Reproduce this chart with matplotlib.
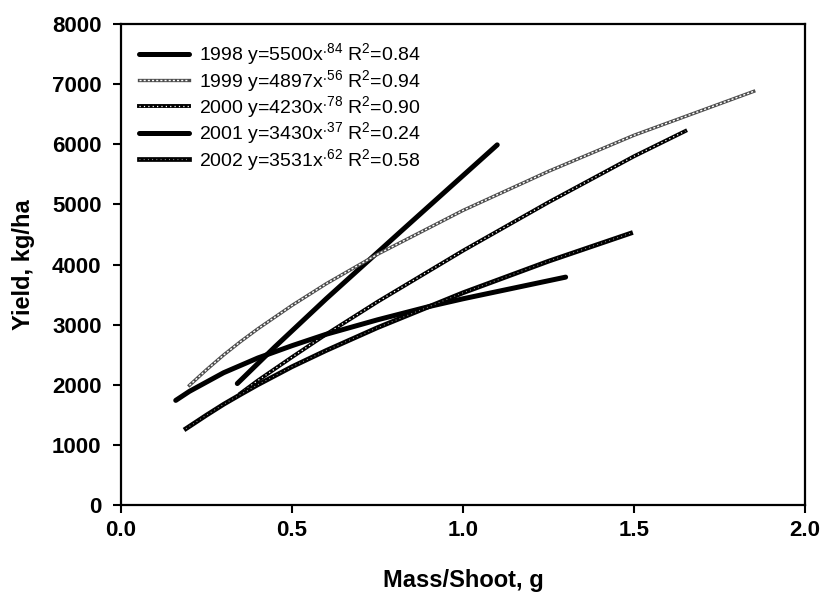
'''
Yield vs mass per shoot, fitted power curves for 1998-2002
'''

import matplotlib
matplotlib.use("Agg")
import matplotlib.pyplot as plt

plt.rcParams['font.family'] = ['Liberation Sans', 'DejaVu Sans']
plt.rcParams['mathtext.fontset'] = 'custom'
plt.rcParams['mathtext.rm'] = 'Liberation Sans'
plt.rcParams['mathtext.default'] = 'regular'

# values (x = mass/shoot in g, y = yield in kg/ha)
x_1998 = [0.34, 0.45, 0.60, 0.82, 1.10]
y_1998 = [2020, 2630, 3430, 4560, 5990]

x_1999 = [0.20, 0.25, 0.30, 0.35, 0.40, 0.50, 0.60, 0.75, 1.00, 1.25, 1.50, 1.85]
y_1999 = [1990, 2250, 2495, 2720, 2930, 3320, 3680, 4170, 4900, 5550, 6150, 6880]

x_2000 = [0.35, 0.40, 0.50, 0.60, 0.75, 1.00, 1.25, 1.50, 1.65]
y_2000 = [1860, 2070, 2460, 2840, 3380, 4230, 5035, 5800, 6220]

x_2001 = [0.16, 0.20, 0.30, 0.40, 0.50, 0.60, 0.75, 0.90, 1.00, 1.15, 1.30]
y_2001 = [1740, 1890, 2200, 2445, 2650, 2840, 3080, 3300, 3430, 3610, 3790]

x_2002 = [0.19, 0.25, 0.30, 0.35, 0.40, 0.50, 0.60, 0.75, 1.00, 1.25, 1.49]
y_2002 = [1270, 1495, 1675, 1840, 2000, 2300, 2570, 2950, 3530, 4055, 4520]

labels = [
    r'1998 y=5500x$^{.\!84}$ R$^2$=0.84',
    r'1999 y=4897x$^{.\!56}$ R$^2$=0.94',
    r'2000 y=4230x$^{.\!78}$ R$^2$=0.90',
    r'2001 y=3430x$^{.\!37}$ R$^2$=0.24',
    r'2002 y=3531x$^{.\!62}$ R$^2$=0.58',
]

fig = plt.figure(figsize=(8.25, 5.96), dpi=100)
ax = fig.add_axes([0.1467, 0.1527, 0.8291, 0.807])

h98, = ax.plot(x_1998, y_1998, color='black', lw=3.6, solid_capstyle='round')

# the dotted curves look like hollow chains: dark base line + light dashes on top
b99, = ax.plot(x_1999, y_1999, color='0.3', lw=2.4)
t99, = ax.plot(x_1999, y_1999, color='white', lw=1.0, dashes=(1.5, 1.5))

b00, = ax.plot(x_2000, y_2000, color='black', lw=2.8)
t00, = ax.plot(x_2000, y_2000, color='white', lw=0.9, dashes=(1.0, 2.5))

h01, = ax.plot(x_2001, y_2001, color='black', lw=3.6, solid_capstyle='round')

b02, = ax.plot(x_2002, y_2002, color='black', lw=3.4)
t02, = ax.plot(x_2002, y_2002, color='0.6', lw=0.8, dashes=(0.8, 3.0))

ax.set_xlim(0, 2.0)
ax.set_ylim(0, 8000)
ax.set_xticks([0.0, 0.5, 1.0, 1.5, 2.0])
ax.set_xticklabels(['0.0', '0.5', '1.0', '1.5', '2.0'])
ax.set_yticks(range(0, 8001, 1000))

ax.tick_params(direction='out', length=6, width=1.5, labelsize=16, pad=8)
ax.tick_params(axis='x', pad=5)
for lab in ax.get_xticklabels() + ax.get_yticklabels():
    lab.set_fontweight('bold')
for sp in ax.spines.values():
    sp.set_linewidth(1.6)

ax.set_xlabel('Mass/Shoot, g', fontsize=17, fontweight='bold', labelpad=20)
ax.set_ylabel('Yield, kg/ha', fontsize=17, fontweight='bold', labelpad=12)

ax.legend([h98, (b99, t99), (b00, t00), h01, (b02, t02)], labels,
          loc='upper left', frameon=False, fontsize=14, handlelength=2.6,
          handletextpad=0.5, labelspacing=0.02, borderaxespad=0.5)

fig.savefig('out.png', dpi=100)
